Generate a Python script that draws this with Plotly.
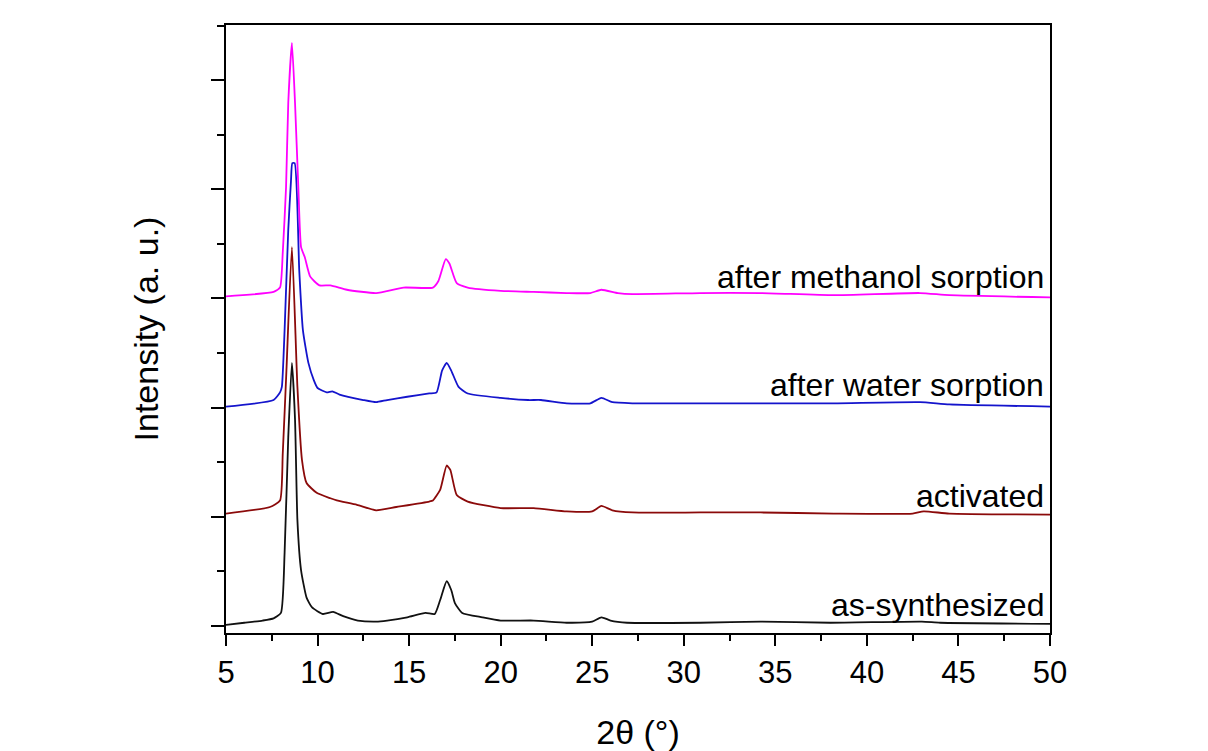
import plotly.graph_objects as go

# PXRD patterns, stacked with a vertical offset of one unit each.
# Intensities are normalised so the flat background sits near zero.

x_as = [5.0, 6.0, 7.0, 7.6, 8.0, 8.2, 8.4, 8.6, 8.77, 8.9, 9.1, 9.4, 9.7, 10.3,
        10.85, 11.4, 12.2, 13.2, 13.8, 14.9, 15.9, 16.4, 16.7, 17.05, 17.3, 17.5,
        17.9, 19.0, 20.0, 21.8, 23.6, 25.0, 25.5, 26.0, 26.9, 30.9, 34.2, 38.0,
        43.0, 44.0, 50.0]
y_as = [0.01, 0.03, 0.05, 0.07, 0.12, 0.67, 1.73, 2.41, 1.89, 0.97, 0.51, 0.26,
        0.17, 0.11, 0.13, 0.09, 0.05, 0.04, 0.05, 0.08, 0.12, 0.11, 0.24, 0.41,
        0.33, 0.21, 0.12, 0.08, 0.05, 0.05, 0.03, 0.04, 0.08, 0.05, 0.03, 0.03,
        0.04, 0.03, 0.04, 0.03, 0.02]

x_act = [5.0, 7.4, 7.95, 8.1, 8.3, 8.6, 8.9, 9.15, 9.4, 9.95, 10.7, 11.05, 12.15,
         13.2, 14.3, 16.1, 16.3, 16.7, 17.05, 17.25, 17.6, 18.2, 20.0, 21.8, 23.6,
         25.0, 25.5, 26.1, 27.2, 30.9, 34.2, 38.2, 42.5, 43.1, 44.5, 50.0]
y_act = [0.03, 0.09, 0.15, 0.58, 1.34, 2.47, 1.19, 0.52, 0.31, 0.22, 0.17, 0.15,
         0.11, 0.06, 0.09, 0.14, 0.15, 0.25, 0.47, 0.43, 0.20, 0.14, 0.08, 0.08,
         0.05, 0.05, 0.10, 0.06, 0.04, 0.04, 0.04, 0.03, 0.03, 0.05, 0.03, 0.02]

x_wat = [5.0, 7.6, 7.95, 8.05, 8.2, 8.4, 8.55, 8.62, 8.75, 9.0, 9.2, 9.5, 9.8,
         10.0, 10.5, 10.8, 11.2, 12.5, 13.2, 13.8, 14.9, 16.1, 16.5, 16.8, 17.05,
         17.3, 17.7, 18.2, 20.0, 21.5, 22.2, 23.6, 24.9, 25.5, 26.1, 27.2, 30.9,
         34.2, 38.2, 42.9, 44.5, 50.0]
y_wat = [0.01, 0.07, 0.14, 0.19, 0.71, 1.63, 2.08, 2.24, 2.24, 1.26, 0.71, 0.41,
         0.25, 0.18, 0.14, 0.15, 0.12, 0.07, 0.05, 0.07, 0.10, 0.13, 0.14, 0.34,
         0.41, 0.34, 0.19, 0.13, 0.09, 0.07, 0.07, 0.04, 0.04, 0.09, 0.05, 0.04,
         0.04, 0.04, 0.04, 0.05, 0.03, 0.01]

x_meth = [5.0, 7.6, 7.95, 8.1, 8.28, 8.4, 8.6, 8.77, 8.95, 9.1, 9.3, 9.6, 10.1,
          10.7, 11.6, 13.2, 14.7, 16.3, 16.6, 17.0, 17.2, 17.6, 18.2, 20.0, 21.8,
          23.6, 24.9, 25.5, 26.4, 27.2, 30.9, 34.2, 38.2, 42.9, 44.5, 50.0]
y_meth = [0.02, 0.06, 0.10, 0.42, 1.02, 1.79, 2.34, 1.79, 1.02, 0.47, 0.38, 0.20,
          0.12, 0.12, 0.08, 0.05, 0.10, 0.10, 0.16, 0.36, 0.32, 0.14, 0.10, 0.07,
          0.06, 0.05, 0.05, 0.08, 0.05, 0.04, 0.05, 0.05, 0.03, 0.05, 0.03, 0.01]

names = ["as-synthesized", "activated", "after water sorption", "after methanol sorption"]
offsets = [0.0, 1.0, 2.0, 3.0]
colors = ["#111111", "#8B0A0A", "#1414CC", "#FF00FF"]
label_y = [0.19, 1.19, 2.21, 3.20]

xs = [x_as, x_act, x_wat, x_meth]
ys = [y_as, y_act, y_wat, y_meth]

FONT = "Arial, Liberation Sans, sans-serif"

fig = go.Figure()
for x, y, off, c, n in zip(xs, ys, offsets, colors, names):
    fig.add_trace(go.Scatter(
        x=x, y=[v + off for v in y], mode="lines", name=n,
        line=dict(color=c, width=1.8, shape="spline", smoothing=0.5),
        showlegend=False,
    ))

for n, ly in zip(names, label_y):
    fig.add_annotation(
        x=50, y=ly, xref="x", yref="y", text=n, showarrow=False,
        xanchor="right", yanchor="middle", xshift=-4,
        font=dict(family=FONT, size=32, color="black"),
    )

fig.update_layout(
    width=1208, height=751,
    margin=dict(l=226, r=158, t=25, b=118),
    paper_bgcolor="white", plot_bgcolor="white",
    font=dict(family=FONT, color="black"),
)

fig.update_xaxes(
    range=[5, 50], dtick=5, tick0=5, automargin=False,
    showline=True, linecolor="black", linewidth=2, mirror=True,
    ticks="outside", ticklen=11, tickwidth=2, tickcolor="black",
    minor=dict(dtick=2.5, ticks="outside", ticklen=6, tickwidth=2, tickcolor="black"),
    showgrid=False, zeroline=False,
    tickfont=dict(family=FONT, size=31, color="black"),
    title=dict(text="2θ (°)", font=dict(family=FONT, size=34, color="black"), standoff=34),
)

fig.update_yaxes(
    range=[-0.064, 5.505], dtick=1, tick0=0, automargin=False,
    showline=True, linecolor="black", linewidth=2, mirror=True,
    ticks="outside", ticklen=13, tickwidth=2, tickcolor="black",
    minor=dict(dtick=0.5, ticks="outside", ticklen=7, tickwidth=2, tickcolor="black"),
    showticklabels=False, showgrid=False, zeroline=False,
    title=dict(text="Intensity (a. u.)", font=dict(family=FONT, size=34, color="black"), standoff=42),
)

fig.write_html("out.html")
